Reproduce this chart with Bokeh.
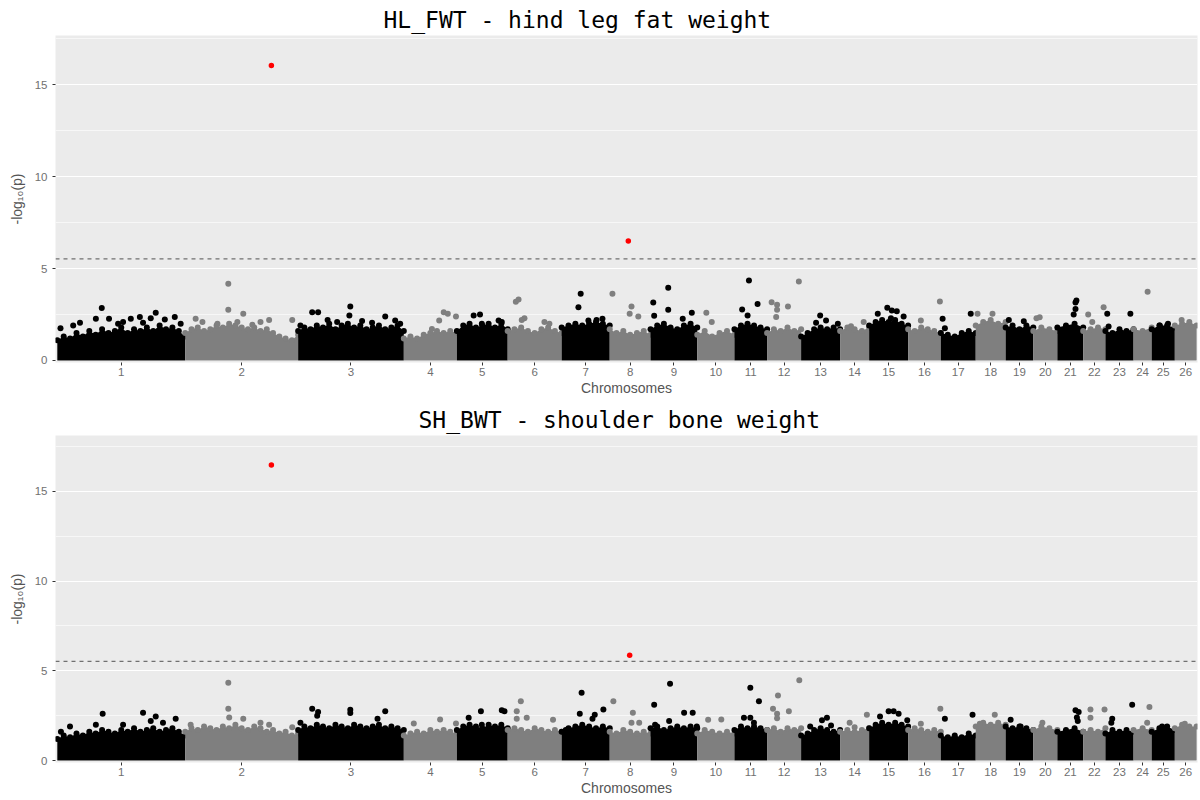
from bokeh.plotting import figure
from bokeh.layouts import column
from bokeh.models import FixedTicker, Range1d, Span, ColumnDataSource
from bokeh.embed import file_html
from bokeh.resources import INLINE

# ---------------- data ----------------
CHROMS = list(range(1, 27))
CHROM_LEN_MB = [282, 249, 233, 117, 112, 119, 106, 90, 103, 82, 72, 75, 86,
                64, 86, 72, 77, 66, 61, 53, 57, 49, 62, 40, 51, 48]
THRESHOLD = 5.53

# top of the dense SNP mass along each chromosome (-log10 p), HL_FWT
HL_BAND = [
    [1.1, 1.3, 1.2, 1.5, 1.3, 1.6, 1.4, 1.7, 1.5, 1.6, 1.8, 1.5, 1.7, 1.6, 1.8, 1.6, 1.9, 1.7, 1.8, 1.6, 1.3],
    [1.5, 1.7, 1.8, 1.6, 1.7, 1.9, 1.8, 2.0, 1.9, 1.8, 1.7, 1.8, 1.6, 1.7, 1.5, 1.3, 1.2, 1.1, 1.4],
    [1.6, 1.8, 1.7, 1.9, 1.8, 2.0, 1.7, 1.9, 2.0, 1.8, 1.9, 1.7, 1.8, 1.9, 1.7, 1.8, 1.9, 1.6],
    [1.2, 1.3, 1.2, 1.4, 1.5, 1.6, 1.5, 1.6, 1.5],
    [1.6, 1.9, 2.0, 1.8, 1.9, 2.0, 1.8, 2.0, 1.7],
    [1.6, 1.7, 1.8, 1.6, 1.5, 1.7, 1.8, 1.6, 1.5],
    [1.8, 1.9, 2.0, 1.9, 2.0, 2.1, 2.0, 1.9],
    [1.7, 1.5, 1.6, 1.4, 1.5, 1.6, 1.4],
    [1.7, 1.9, 2.0, 1.8, 1.7, 1.9, 2.0, 1.8],
    [1.4, 1.6, 1.3, 1.5, 1.6, 1.4],
    [1.7, 1.9, 2.0, 1.9, 1.8, 1.7],
    [1.5, 1.7, 1.6, 1.8, 1.6, 1.7],
    [1.3, 1.5, 1.7, 1.8, 1.7, 1.8, 1.7],
    [1.6, 1.8, 1.7, 1.6, 1.8],
    [1.9, 2.1, 2.2, 2.1, 2.2, 2.0, 1.9],
    [1.7, 1.6, 1.8, 1.7, 1.6, 1.5],
    [1.5, 1.4, 1.3, 1.5, 1.6, 1.5],
    [1.9, 2.1, 2.2, 2.0, 2.1],
    [1.8, 1.9, 1.7, 1.9, 1.8],
    [1.6, 1.8, 1.7, 1.6],
    [1.8, 1.9, 2.0, 1.8],
    [1.6, 1.7, 1.8, 1.7],
    [1.6, 1.5, 1.7, 1.6, 1.7],
    [1.7, 1.6, 1.8],
    [1.7, 1.9, 1.9, 1.8],
    [1.9, 2.0, 2.1, 1.9],
]

# individual SNPs standing out above the mass, HL_FWT
HL_CHR = [1]*16 + [2]*11 + [3]*12 + [4]*5 + [5]*5 + [6]*6 + [7]*5 + [8]*4 + [9]*6 + [10]*2 + [11]*4 + \
         [12]*6 + [13]*4 + [14]*2 + [15]*6 + [16]*2 + [17]*3 + [18]*2 + [19]*2 + [20]*2 + [21]*4 + \
         [22]*3 + [23]*3 + [24]*1 + [25]*2 + [26]*1
HL_POS = [7, 50, 85, 98, 114, 162, 182, 206, 217, 237, 259, 35, 134, 145, 189, 272,
          23, 95, 95, 128, 166, 185, 236, 38, 71, 115, 148,
          5, 31, 44, 115, 113, 192, 214, 65, 86, 141, 163, 225,
          78, 88, 97, 115, 62,
          37, 51, 55, 92, 99,
          18, 24, 37, 31, 81, 92,
          37, 42, 59, 77, 90,
          6, 48, 44, 63,
          6, 8, 39, 39, 71, 91,
          20, 32,
          17, 32, 29, 51,
          10, 22, 22, 20, 46, 70,
          42, 55, 81, 33,
          24, 52,
          19, 40, 50, 61, 76, 48,
          28, 70,
          4, 66, 9,
          4, 37,
          7, 40,
          7, 14,
          42, 40, 40, 36,
          11, 20, 45,
          4, 7, 55,
          31,
          18, 36,
          15]
HL_LOGP = [1.76, 2.05, 2.27, 2.85, 2.27, 2.27, 2.36, 2.30, 2.60, 2.23, 2.36, 1.9, 2.0, 2.1, 2.05, 2.0,
           2.27, 4.17, 2.76, 2.54, 2.09, 2.2, 2.2, 2.1, 2.0, 2.1, 1.95,
           1.9, 2.63, 2.63, 2.94, 2.45, 2.4, 2.18, 2.2, 2.1, 2.15, 2.05, 2.0,
           2.18, 2.63, 2.54, 2.4, 1.72,
           2.45, 2.5, 2.0, 2.18, 2.1,
           3.2, 3.32, 2.3, 2.2, 2.1, 2.0,
           2.9, 3.63, 2.18, 2.2, 2.27,
           3.63, 2.94, 2.54, 2.4,
           3.15, 2.43, 3.96, 2.76, 2.27, 2.6,
           2.6, 2.1,
           2.78, 4.35, 2.45, 3.08,
           3.17, 3.04, 2.76, 2.36, 2.94, 4.3,
           2.45, 2.18, 2.0, 2.05,
           1.87, 2.1,
           2.54, 2.87, 2.72, 2.68, 2.4, 2.3,
           2.18, 3.21,
           2.27, 2.54, 1.75,
           2.54, 2.54,
           2.2, 2.14,
           2.3, 2.35,
           3.27, 3.15, 2.8, 2.5,
           2.5, 2.1, 2.9,
           2.54, 1.85, 2.54,
           3.74,
           1.9, 2.0,
           2.2]
HL_SIG_CHR = [2, 8]
HL_SIG_POS = [190, 41]
HL_SIG_LOGP = [16.06, 6.51]

# SH_BWT
SH_BAND = [
    [1.2, 1.4, 1.3, 1.5, 1.4, 1.6, 1.5, 1.7, 1.6, 1.5, 1.7, 1.6, 1.8, 1.6, 1.7, 1.8, 1.6, 1.7, 1.8, 1.6, 1.4],
    [1.6, 1.8, 1.7, 1.9, 1.8, 1.7, 1.9, 1.8, 2.0, 1.8, 1.7, 1.9, 1.8, 1.6, 1.7, 1.5, 1.6, 1.4, 1.5],
    [1.7, 1.9, 1.8, 2.0, 1.9, 1.8, 2.0, 1.9, 1.8, 2.0, 1.9, 1.8, 1.9, 2.0, 1.8, 1.9, 1.8, 1.7],
    [1.4, 1.5, 1.6, 1.5, 1.7, 1.6, 1.7, 1.6, 1.5],
    [1.7, 1.9, 2.0, 1.9, 1.8, 2.0, 1.9, 2.0, 1.8],
    [1.7, 1.8, 1.7, 1.6, 1.8, 1.7, 1.6, 1.7, 1.6],
    [1.6, 1.8, 1.9, 2.0, 1.9, 1.8, 1.9, 1.8],
    [1.6, 1.5, 1.7, 1.6, 1.5, 1.6, 1.5],
    [1.8, 1.9, 1.7, 1.8, 1.9, 1.8, 1.9, 1.8],
    [1.5, 1.7, 1.6, 1.5, 1.6, 1.5],
    [1.7, 1.9, 1.8, 1.9, 1.8, 1.7],
    [1.7, 1.8, 1.6, 1.8, 1.7, 1.8],
    [1.4, 1.5, 1.7, 1.8, 1.7, 1.6, 1.7],
    [1.6, 1.7, 1.6, 1.7, 1.8],
    [1.8, 2.0, 2.1, 2.0, 2.1, 2.0, 1.9],
    [1.7, 1.8, 1.7, 1.6, 1.7, 1.6],
    [1.4, 1.3, 1.4, 1.3, 1.5, 1.4],
    [1.9, 2.1, 2.0, 2.1, 2.0],
    [1.9, 1.8, 1.9, 1.8, 1.7],
    [1.7, 1.9, 1.8, 1.7],
    [1.6, 1.7, 1.8, 1.6],
    [1.6, 1.7, 1.6, 1.8],
    [1.5, 1.7, 1.6, 1.7, 1.6],
    [1.7, 1.8, 1.7],
    [1.6, 1.8, 1.9, 1.7],
    [1.8, 2.0, 1.9, 1.9],
]
SH_CHR = [1]*10 + [2]*8 + [3]*8 + [4]*3 + [5]*5 + [6]*5 + [7]*6 + [8]*4 + [9]*7 + [10]*2 + [11]*5 + \
         [12]*6 + [13]*4 + [14]*3 + [15]*6 + [16]*2 + [17]*2 + [18]*2 + [19]*2 + [20]*1 + [21]*4 + \
         [22]*3 + [23]*3 + [24]*2 + [25]*1 + [26]*1
SH_POS = [100, 189, 217, 261, 8, 28, 85, 145, 206, 233,
          12, 95, 95, 97, 128, 166, 185, 236,
          5, 31, 44, 42, 115, 115, 192, 175,
          22, 80, 115,
          26, 53, 99, 105, 55,
          20, 29, 20, 42, 100,
          9, 40, 44, 68, 73, 92,
          8, 51, 48, 65,
          8, 10, 43, 41, 74, 93, 102,
          24, 53,
          21, 35, 35, 54, 43,
          13, 24, 22, 22, 48, 71,
          20, 46, 57, 66,
          21, 59, 32,
          15, 24, 43, 54, 65, 84,
          28, 71,
          9, 70,
          42, 9,
          11, 33,
          20,
          40, 47, 43, 45,
          16, 16, 47,
          15, 13, 59,
          35, 30,
          23,
          22]
SH_LOGP = [2.61, 2.66, 2.46, 2.33, 1.6, 1.9, 2.0, 2.0, 2.2, 2.1,
           2.0, 4.34, 2.89, 2.4, 2.33, 2.1, 2.0, 1.86,
           2.1, 2.89, 2.7, 2.5, 2.83, 2.65, 2.74, 2.33,
           2.06, 2.28, 2.06,
           2.39, 2.74, 2.8, 2.75, 2.0,
           2.74, 3.3, 2.33, 2.39, 2.27,
           1.7, 2.61, 3.78, 2.33, 2.55, 2.85,
           3.3, 2.66, 2.1, 2.1,
           3.11, 2.0, 4.28, 2.2, 2.66, 2.66, 1.9,
           2.27, 2.29,
           2.39, 4.06, 2.39, 3.3, 2.1,
           2.89, 3.63, 2.6, 2.35, 2.74, 4.47,
           1.9, 2.24, 2.39, 1.95,
           2.1, 2.55, 1.85,
           1.9, 2.46, 2.74, 2.74, 2.6, 2.24,
           2.05, 2.89,
           2.33, 2.55,
           2.55, 2.05,
           2.27, 1.9,
           2.1,
           2.8, 2.7, 2.4, 2.2,
           2.85, 2.39, 2.85,
           2.33, 2.1, 3.11,
           2.98, 2.1,
           1.9,
           2.05]
SH_SIG_CHR = [2, 8]
SH_SIG_POS = [190, 44]
SH_SIG_LOGP = [16.47, 5.87]

# ---------------- layout helpers ----------------
BLACK = "#000000"
GREY = "#7f7f7f"
starts = []
acc = 0
for L in CHROM_LEN_MB:
    starts.append(acc)
    acc += L
TOTAL = acc
centers = [s + L / 2 for s, L in zip(starts, CHROM_LEN_MB)]


def colour(ch):
    return BLACK if ch % 2 == 1 else GREY


def make_panel(title, band, pchr, ppos, plogp, schr, spos, slogp, y_top, title_offset):
    p = figure(width=1200, height=400, output_backend="svg", toolbar_location=None,
               x_range=Range1d(-4, TOTAL + 2), y_range=Range1d(-0.11, y_top),
               min_border_left=55, min_border_right=3, min_border_top=35, min_border_bottom=38)
    p.title.text = title
    p.title.text_font = "DejaVu Sans Mono"
    p.title.text_font_size = "23px"
    p.title.text_font_style = "normal"
    p.title.text_color = "#000000"
    p.title.align = "left"
    p.title.offset = title_offset
    p.title.standoff = 6

    p.background_fill_color = "#EBEBEB"
    p.border_fill_color = "white"
    p.outline_line_color = None

    p.xgrid.visible = False
    p.ygrid.grid_line_color = "white"
    p.ygrid.grid_line_width = 1.2
    p.ygrid.minor_grid_line_color = "white"
    p.ygrid.minor_grid_line_width = 0.6

    p.yaxis.ticker = FixedTicker(ticks=[0, 5, 10, 15], minor_ticks=[2.5, 7.5, 12.5, 17.5])
    p.xaxis.ticker = FixedTicker(ticks=centers)
    p.xaxis.major_label_overrides = {c: str(ch) for c, ch in zip(centers, CHROMS)}
    for ax in (p.xaxis, p.yaxis):
        ax.axis_line_color = None
        ax.major_tick_line_color = "#333333"
        ax.major_tick_out = 3
        ax.major_tick_in = 0
        ax.minor_tick_line_color = None
        ax.major_label_text_font = "Liberation Sans"
        ax.major_label_text_font_size = "11.5px"
        ax.major_label_text_color = "#707070"
        ax.axis_label_text_font = "Liberation Sans"
        ax.axis_label_text_font_size = "14px"
        ax.axis_label_text_font_style = "normal"
        ax.axis_label_text_color = "#555555"
    p.xaxis.major_label_standoff = 2
    p.xaxis.axis_label = "Chromosomes"
    p.xaxis.axis_label_standoff = 1
    p.yaxis.axis_label = "-log\u2081\u2080(p)"
    p.yaxis.major_label_standoff = 4
    p.yaxis.axis_label_standoff = 7

    # dense mass per chromosome
    for i, ch in enumerate(CHROMS):
        vals = band[i]
        n = len(vals)
        xs = [starts[i] + CHROM_LEN_MB[i] * k / (n - 1) for k in range(n)]
        col = colour(ch)
        p.varea(x=xs, y1=[0] * n, y2=vals, fill_color=col, fill_alpha=1)
        p.scatter(x=xs, y=vals, size=6, fill_color=col, line_color=None)

    # standout SNPs
    xs = [starts[c - 1] + pos for c, pos in zip(pchr, ppos)]
    cols = [colour(c) for c in pchr]
    src = ColumnDataSource(dict(x=xs, y=plogp, c=cols))
    p.scatter(x="x", y="y", size=6, fill_color="c", line_color=None, source=src)

    p.add_layout(Span(location=THRESHOLD, dimension="width", line_color="#707070",
                      line_dash="4 4", line_width=1.3))

    sx = [starts[c - 1] + pos for c, pos in zip(schr, spos)]
    p.scatter(x=sx, y=slogp, size=5.5, fill_color="#FF0000", line_color=None)
    return p


p1 = make_panel("HL_FWT - hind leg fat weight", HL_BAND, HL_CHR, HL_POS, HL_LOGP,
                HL_SIG_CHR, HL_SIG_POS, HL_SIG_LOGP, 17.69, 328)
p2 = make_panel("SH_BWT - shoulder bone weight", SH_BAND, SH_CHR, SH_POS, SH_LOGP,
                SH_SIG_CHR, SH_SIG_POS, SH_SIG_LOGP, 18.11, 363)

layout = column(p1, p2, spacing=0)
open("out.html", "w").write(file_html(layout, INLINE))
